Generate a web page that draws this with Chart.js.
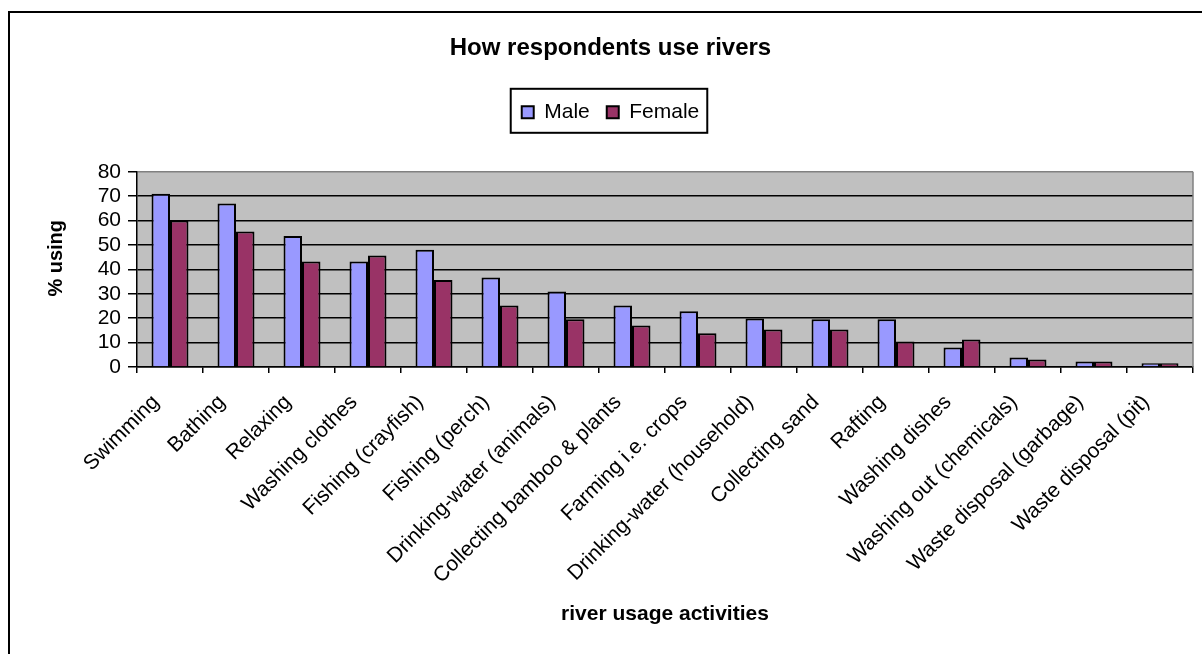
<!DOCTYPE html>
<html>
<head>
<meta charset="utf-8">
<script src="https://cdn.jsdelivr.net/npm/chart.js@4.4.1/dist/chart.umd.min.js"></script>
<style>
  html, body { margin: 0; padding: 0; background: #ffffff; }
  #wrap { width: 1202px; height: 654px; }
</style>
</head>
<body>
<div id="wrap"><canvas id="chart" width="1202" height="654"></canvas></div>
<script>
// River usage activities and share of respondents (%) by gender
const activities = [
  'Swimming', 'Bathing', 'Relaxing', 'Washing clothes', 'Fishing (crayfish)',
  'Fishing (perch)', 'Drinking-water (animals)', 'Collecting bamboo & plants',
  'Farming i.e. crops', 'Drinking-water (household)', 'Collecting sand',
  'Rafting', 'Washing dishes', 'Washing out (chemicals)',
  'Waste disposal (garbage)', 'Waste disposal (pit)'
];
const maleValues   = [71, 67, 53.7, 43.2, 48.1, 36.7, 30.9, 25.2, 22.8, 19.9, 19.6, 19.6, 8.0, 3.9, 2.3, 1.5];
const femaleValues = [60, 55.5, 43.2, 45.7, 35.7, 25.2, 19.6, 17.0, 13.8, 15.4, 15.4, 10.4, 11.3, 3.1, 2.3, 1.5];
const yTicks = [0, 10, 20, 30, 40, 50, 60, 70, 80];

const FONT = "'Liberation Sans', Arial, Helvetica, sans-serif";

// Grey plot background, frame around the whole figure, box around the legend
const decorations = {
  id: 'decorations',
  beforeDraw(chart) {
    const { ctx, chartArea: a } = chart;
    ctx.save();
    ctx.fillStyle = '#ffffff';
    ctx.fillRect(0, 0, chart.width, chart.height);
    ctx.fillStyle = '#c0c0c0';
    ctx.fillRect(a.left, a.top, a.right - a.left, a.bottom - a.top);
    ctx.strokeStyle = '#000000';
    ctx.lineWidth = 2;
    ctx.strokeRect(9, 12, chart.width + 20, chart.height + 20);
    ctx.restore();
  },
  afterDraw(chart) {
    const { ctx, chartArea: a } = chart;
    ctx.save();
    // right edge of the plot area
    ctx.strokeStyle = '#808080';
    ctx.lineWidth = 1.5;
    ctx.beginPath();
    ctx.moveTo(a.right, a.top);
    ctx.lineTo(a.right, a.bottom);
    ctx.stroke();
    // legend frame
    const hb = chart.legend && chart.legend.legendHitBoxes;
    if (hb && hb.length) {
      const l = Math.min(...hb.map(h => h.left)) - 11;
      const r = Math.max(...hb.map(h => h.left + h.width)) + 8;
      const t = hb[0].top - 13;
      const b = hb[0].top + hb[0].height + 10;
      ctx.strokeStyle = '#000000';
      ctx.lineWidth = 2;
      ctx.strokeRect(l, t, r - l, b - t);
    }
    ctx.restore();
  }
};

new Chart(document.getElementById('chart'), {
  type: 'bar',
  data: {
    labels: activities,
    datasets: [
      { label: 'Male', data: maleValues, backgroundColor: '#9999ff', borderColor: '#000000', borderWidth: 2 },
      { label: 'Female', data: femaleValues, backgroundColor: '#993366', borderColor: '#000000', borderWidth: 2 }
    ]
  },
  options: {
    responsive: false,
    animation: false,
    devicePixelRatio: 1,
    layout: { padding: { top: 12, left: 28, right: 9, bottom: 20 } },
    datasets: { bar: { categoryPercentage: 0.56, barPercentage: 1 } },
    plugins: {
      title: {
        display: true,
        text: 'How respondents use rivers',
        color: '#000000',
        font: { family: FONT, size: 24, weight: 'bold', lineHeight: 1.2 },
        padding: { top: 22, bottom: 22 }
      },
      subtitle: {
        display: true,
        text: '',
        weight: 500,
        font: { family: FONT, size: 10, lineHeight: 1.2 },
        padding: { top: 27, bottom: 0 }
      },
      legend: {
        display: true,
        position: 'top',
        labels: {
          color: '#000000',
          font: { family: FONT, size: 21 },
          boxWidth: 12,
          boxHeight: 12,
          padding: 17,
          useBorderRadius: false
        }
      },
      tooltip: { enabled: false }
    },
    scales: {
      x: {
        afterFit(scale) { scale.height = 267; },
        grid: {
          offset: true,
          drawOnChartArea: false,
          drawTicks: true,
          tickLength: 6,
          color: '#000000',
          tickColor: '#000000',
          lineWidth: 1.5
        },
        border: { display: true, color: '#000000', width: 1.5 },
        ticks: {
          autoSkip: false,
          minRotation: 45,
          maxRotation: 45,
          color: '#000000',
          padding: 17,
          labelOffset: -14,
          font: { family: FONT, size: 21 }
        },
        title: {
          display: true,
          text: 'river usage activities',
          color: '#000000',
          font: { family: FONT, size: 21, weight: 'bold', lineHeight: 1.2 },
          padding: { top: 0, bottom: 7 }
        }
      },
      y: {
        min: 0,
        max: 80,
        afterFit(scale) { scale.width = 109; },
        afterBuildTicks(scale) { scale.ticks = yTicks.map(v => ({ value: v })); },
        grid: {
          drawTicks: true,
          tickLength: 9,
          color: ctx => (ctx.tick && ctx.tick.value === 80 ? '#808080' : '#000000'),
          tickColor: '#000000',
          lineWidth: 1.5
        },
        border: { display: true, color: '#000000', width: 1.5 },
        ticks: {
          autoSkip: false,
          color: '#000000',
          padding: 7,
          font: { family: FONT, size: 21 }
        },
        title: {
          display: true,
          text: '    % using',
          color: '#000000',
          font: { family: FONT, size: 20, weight: 'bold', lineHeight: 1.2 },
          padding: { top: 16, bottom: 0 }
        }
      }
    }
  },
  plugins: [decorations]
});
</script>
</body>
</html>
